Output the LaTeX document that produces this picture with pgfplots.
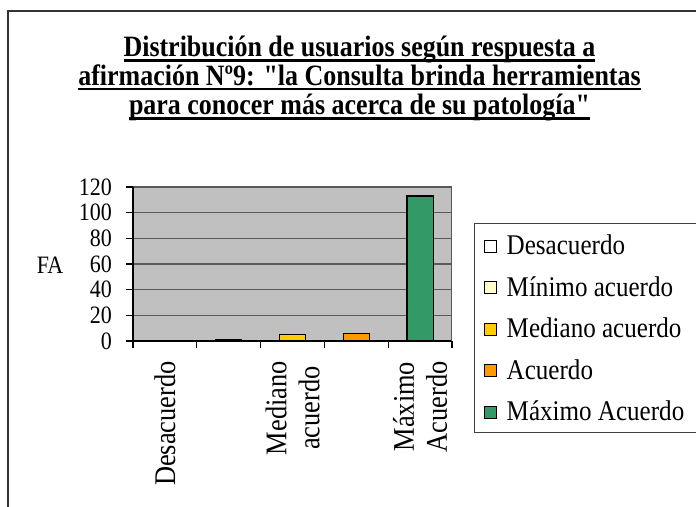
\documentclass[border=0pt]{standalone}
\usepackage{fontspec}
\setmainfont{Liberation Serif}[FakeStretch=0.88, Ligatures=TeXOff]
\usepackage{pgfplots}
\pgfplotsset{compat=1.18}
\definecolor{plotgray}{HTML}{C0C0C0}
\definecolor{minimo}{HTML}{FFFFCC}
\definecolor{mediano}{HTML}{FFCC00}
\definecolor{acuerdo}{HTML}{FF9900}
\definecolor{maximo}{HTML}{339966}
% underline crossing the descenders, like the original
\newcommand\ul[1]{\setbox0=\hbox{#1}\rlap{\rule[-5bp]{\wd0}{2.5bp}}\box0}

\begin{document}
\begin{tikzpicture}
\useasboundingbox (0,0) rectangle (696bp,507bp);
\clip (0,0) rectangle (696bp,507bp);
\fill[white] (0,0) rectangle (696bp,507bp);
\draw[line width=1.5bp, black!80] (8bp,-5bp) -- (8bp,496bp) -- (705bp,496bp);

% title
\begin{scope}[every node/.style={anchor=base, inner sep=0pt, font=\bfseries\fontsize{29.5bp}{35bp}\selectfont}]
\node at (359.5bp,450bp) {\ul{Distribución de usuarios según respuesta a}};
\node at (359.5bp,421.5bp) {\ul{afirmación Nº9: "la Consulta brinda herramientas}};
\node at (359.5bp,392bp) {\ul{para conocer más acerca de su patología"}};
\end{scope}

\node[font=\fontsize{25bp}{30bp}\selectfont] at (50bp,242bp) {FA};

\begin{axis}[
  at={(133bp,166bp)}, anchor=south west,
  scale only axis, width=319bp, height=154bp,
  xmin=-0.5, xmax=4.5, ymin=0, ymax=120,
  enlargelimits=false,
  axis lines*=left,
  axis line style={black, line width=1.2bp},
  axis background/.style={fill=plotgray},
  ytick={0,20,...,120},
  xtick={-0.5,0.5,...,4.5}, xticklabels={},
  tick align=outside, major tick length=7bp,
  tick style={black, line width=1.2bp},
  ymajorgrids, grid style={black!65, line width=1.2bp},
  /pgf/number format/assume math mode=true,
  tick label style={font=\fontsize{25bp}{30bp}\selectfont},
  yticklabel style={inner sep=0pt, anchor=east, xshift=-14bp},
  extra x ticks={0,2,4},
  extra x tick labels={Desacuerdo,{Mediano\\acuerdo},{Máximo\\Acuerdo}},
  extra x tick style={major tick length=0pt, grid=none,
    tick label style={rotate=90, anchor=east, align=center, inner sep=0pt,
      font=\fontsize{30bp}{33bp}\selectfont, xshift=-20bp}},
  legend image code/.code={\draw[#1, draw=black, line width=1.2bp] (0bp,-7.5bp) rectangle (12bp,4.5bp);},
  legend cell align=left,
  legend style={at={(1.069,0.766)}, anchor=north west, draw=black!75, line width=1bp, fill=white,
    inner xsep=9bp, inner ysep=5bp, row sep=9bp, column sep=10bp,
    nodes={inner sep=0pt, text height=26bp, text depth=6.5bp, font=\fontsize{28.5bp}{33bp}\selectfont}},
]
\addplot[ybar, bar width=0.41, bar shift=0pt, fill=white, draw=black, line width=1.3bp] coordinates {(0,0)};
\addlegendentry{\makebox[185bp][l]{Desacuerdo}}
\addplot[ybar, bar width=0.41, bar shift=0pt, fill=minimo, draw=black, line width=1.3bp] coordinates {(1,1)};
\addlegendentry{\makebox[185bp][l]{Mínimo acuerdo}}
\addplot[ybar, bar width=0.41, bar shift=0pt, fill=mediano, draw=black, line width=1.3bp] coordinates {(2,5)};
\addlegendentry{\makebox[185bp][l]{Mediano acuerdo}}
\addplot[ybar, bar width=0.41, bar shift=0pt, fill=acuerdo, draw=black, line width=1.3bp] coordinates {(3,6)};
\addlegendentry{\makebox[185bp][l]{Acuerdo}}
\addplot[ybar, bar width=0.41, bar shift=0pt, fill=maximo, draw=black, line width=1.3bp] coordinates {(4,113)};
\addlegendentry{\makebox[185bp][l]{Máximo Acuerdo}}
\draw[black!65, line width=1.2bp] (axis cs:4.5,0) -- (axis cs:4.5,120);
\end{axis}
\end{tikzpicture}
\end{document}
